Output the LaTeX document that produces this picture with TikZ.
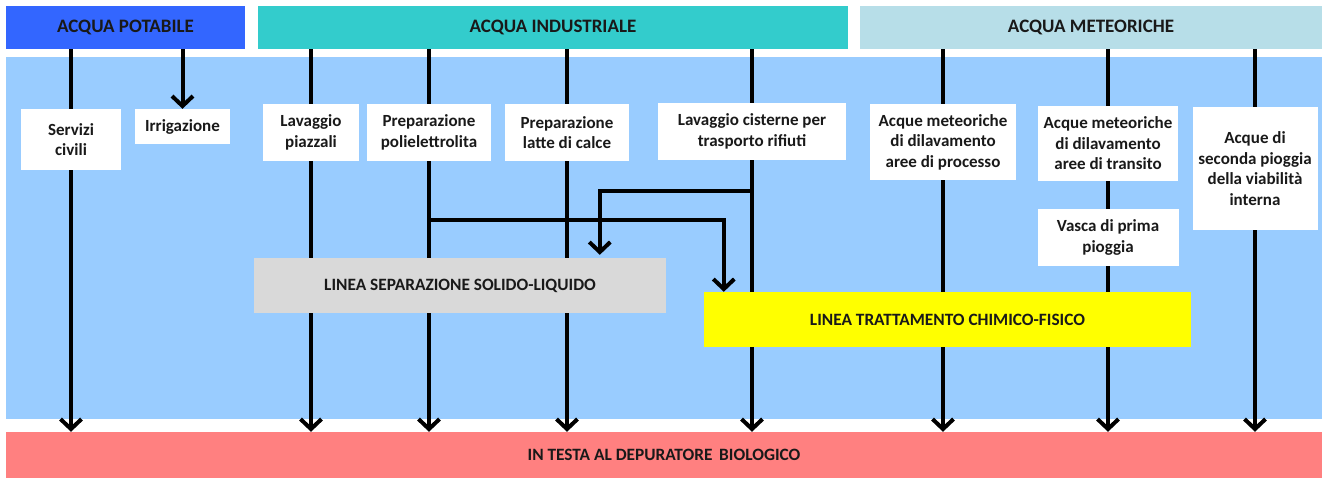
\documentclass[tikz,border=0pt]{standalone}
\usepackage{fontspec}
\setmainfont{Carlito}
\definecolor{potblue}{RGB}{51, 102, 255}
\definecolor{indteal}{RGB}{51, 204, 204}
\definecolor{metblue}{RGB}{183, 222, 232}
\definecolor{areablue}{RGB}{153, 204, 255}
\definecolor{biopink}{RGB}{255, 128, 128}
\definecolor{sepgray}{RGB}{217, 217, 217}
\definecolor{chemyellow}{RGB}{255, 255, 0}
\usetikzlibrary{arrows.meta, positioning, calc}

\begin{document}
\begin{tikzpicture}[x=1pt, y=-1pt,
  lbl/.style={font=\fontsize{17}{20.5}\selectfont\bfseries, text=black!90},
  hdr/.style={lbl, font=\fontsize{19}{22}\selectfont\bfseries, minimum height=43pt, inner sep=0pt},
  band/.style={lbl, font=\fontsize{17.3}{21}\selectfont\bfseries, inner sep=0pt},
  wbox/.style={lbl, fill=white, align=center, inner sep=0pt},
  flow/.style={line width=4pt, black},
  flowarr/.style={flow, -{Straight Barb[length=10pt, width=21pt]}}
]
  \useasboundingbox (0,0) rectangle (1325,479);

  % Background area
  \fill[areablue] (6,57) rectangle (1322,419);

  % Sources
  \node[hdr, fill=potblue, minimum width=239pt] (potabile) at (125.5, 27.5) {ACQUA POTABILE};
  \node[hdr, fill=indteal, minimum width=590pt] (industriale) at (553, 27.5) {ACQUA INDUSTRIALE};
  \node[hdr, fill=metblue, minimum width=462pt] (meteoriche) at (1091, 27.5) {ACQUA METEORICHE};

  % Destination
  \node[band, fill=biopink, minimum width=1316pt, minimum height=46pt] (bio) at (664, 455) {IN TESTA AL DEPURATORE\ \,BIOLOGICO};

  % Uses
  \node[wbox, minimum width=100pt, minimum height=61pt] (servizi) at (71, 139.5) {Servizi\\civili};
  \node[wbox, minimum width=95pt, minimum height=35pt] (irrig) at (182.5, 126.5) {Irrigazione};
  \node[wbox, minimum width=96pt, minimum height=57pt] (piazzali) at (311, 132.5) {Lavaggio\\piazzali};
  \node[wbox, minimum width=124pt, minimum height=57pt] (poli) at (429, 132.5) {Preparazione\\polielettrolita};
  \node[wbox, minimum width=124pt, minimum height=57pt] (latte) at (567, 132.5) {Preparazione\\latte di calce};
  \node[wbox, minimum width=188pt, minimum height=57pt] (cisterne) at (752, 131.5) {Lavaggio cisterne per\\trasporto rifiuti};
  \node[wbox, minimum width=146pt, minimum height=76pt] (processo) at (943, 142) {Acque meteoriche\\di dilavamento\\aree di processo};
  \node[wbox, minimum width=140pt, minimum height=75pt] (transito) at (1108, 143.5) {Acque meteoriche\\di dilavamento\\aree di transito};
  \node[wbox, minimum width=141pt, minimum height=57pt] (vasca) at (1108, 237.5) {Vasca di prima\\pioggia};
  \node[wbox, minimum width=125pt, minimum height=123pt] (seconda) at (1255, 168.5) {Acque di\\seconda pioggia\\della viabilit\`a\\interna};

  % Treatment lines
  \node[band, fill=sepgray, minimum width=412pt, minimum height=55pt] (sep) at (460, 285.5) {LINEA SEPARAZIONE SOLIDO-LIQUIDO};
  \node[band, fill=chemyellow, minimum width=487pt, minimum height=55pt] (chim) at (947.5, 319.5) {LINEA TRATTAMENTO CHIMICO-FISICO};

  % Potable water
  \draw[flow] (potabile.south -| servizi) -- (servizi);
  \draw[flowarr] (servizi) -- (servizi |- bio.north);
  \draw[flowarr] (potabile.south -| irrig) -- (irrig);

  % Industrial water
  \foreach \u in {piazzali, poli, latte, cisterne} {
    \draw[flow] (industriale.south -| \u) -- (\u);
  }
  \foreach \u in {piazzali, poli, latte} {
    \draw[flow] (\u) -- (\u |- sep.north);
    \draw[flowarr] (\u |- sep.south) -- (\u |- bio.north);
  }
  \draw[flow] (cisterne) -- (cisterne |- chim.north);
  \draw[flowarr] (cisterne |- chim.south) -- (cisterne |- bio.north);

  % Branches to the treatment lines
  \coordinate (poliout) at (429, 220);
  \coordinate (cistout) at (752, 191);
  \draw[flowarr] (poliout) -| ($(chim.north west)+(20,0)$);
  \draw[flowarr] (cistout) -| ($(sep.north west)+(346,-3)$);

  % Rain water
  \foreach \u in {processo, transito, seconda} {
    \draw[flow] (meteoriche.south -| \u) -- (\u);
  }
  \draw[flow] (processo) -- (processo |- chim.north);
  \draw[flowarr] (processo |- chim.south) -- (processo |- bio.north);
  \draw[flow] (transito) -- (vasca);
  \draw[flow] (vasca) -- (vasca |- chim.north);
  \draw[flowarr] (vasca |- chim.south) -- (vasca |- bio.north);
  \draw[flowarr] (seconda) -- (seconda |- bio.north);
\end{tikzpicture}
\end{document}
